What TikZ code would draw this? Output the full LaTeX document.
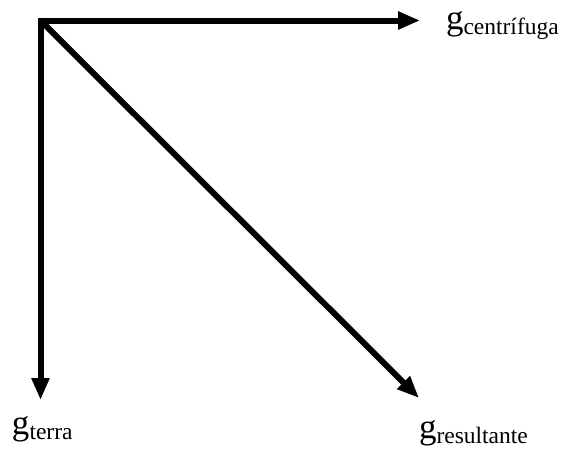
\documentclass[tikz,border=0pt]{standalone}
\usepackage{fontspec}
\setmainfont{Liberation Serif}
\usetikzlibrary{arrows.meta}
\tikzset{
  vec/.style={line width=6pt,-{Triangle[length=22pt,width=17pt]}},
  lab/.style={anchor=base west,inner sep=0pt,outer sep=0pt},
}
\newcommand{\gsym}{\fontsize{35}{35}\selectfont g}
\newcommand{\gsub}[1]{\raisebox{-4.5pt}{\fontsize{23.5}{23.5}\selectfont #1}}
\begin{document}
\begin{tikzpicture}[x=1pt,y=-1pt]
\useasboundingbox (0,0) rectangle (561,448);
\coordinate (O) at (40.5,20.5);
\coordinate (Hs) at (37.5,20.5);
\coordinate (Vs) at (40.5,17.5);
\coordinate (H) at (420,20.5);
\coordinate (V) at (40.5,400);
\coordinate (D) at (419,398);
\draw[vec] (Hs) -- (H);
\draw[vec] (Vs) -- (V);
\draw[vec] (O) -- (D);
\node[lab] (lc) at (446,29.5) {\gsym\gsub{centrífuga}};
\node[lab] (lt) at (12,434.5) {\gsym\gsub{terra}};
\node[lab] (lr) at (419,438.5) {\gsym\gsub{resultante}};
\end{tikzpicture}
\end{document}
